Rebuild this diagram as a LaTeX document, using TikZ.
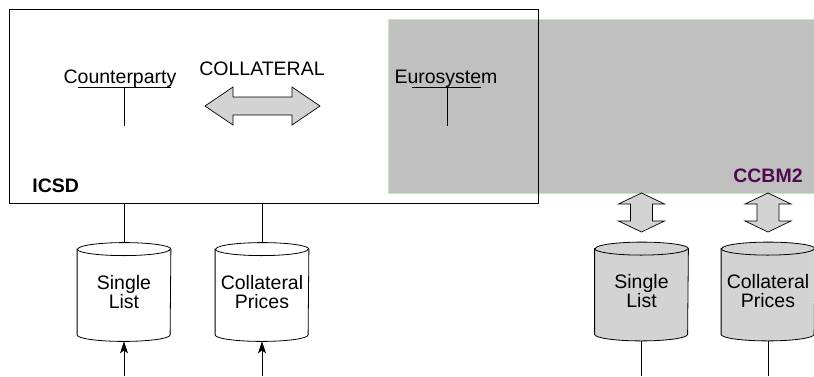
\documentclass[tikz,border=0pt]{standalone}
\usepackage{fontspec}
\setmainfont{Liberation Sans}
\usetikzlibrary{arrows.meta,calc}
\definecolor{boxgray}{HTML}{C0C0C0}
\definecolor{lightfill}{HTML}{D3D3D3}
\definecolor{edgegreen}{HTML}{C6E8BE}
\definecolor{ccbmcol}{HTML}{4E0B4E}
\newcommand\dbcyl[2]{%
  \draw[fill=#2] ($(#1.north west)+(0,6.5)$) -- ($(#1.south west)+(0,-6.5)$)
    arc[start angle=180, end angle=360, x radius=46.5pt, y radius=6.5pt]
    -- ($(#1.north east)+(0,6.5)$)
    arc[start angle=0, end angle=180, x radius=46.5pt, y radius=6.5pt] -- cycle;
  \draw ($(#1.north west)+(0,6.5)$)
    arc[start angle=180, end angle=360, x radius=46.5pt, y radius=6.5pt];
}
\newcommand\vfat[1]{%
  \draw[fatarrow] (#1,193) -- (#1+23,204) -- (#1+11,204) -- (#1+11,221) -- (#1+23,221)
    -- (#1,232) -- (#1-23,221) -- (#1-11,221) -- (#1-11,204) -- (#1-23,204) -- cycle;
}
\begin{document}
\begin{tikzpicture}[x=1pt,y=-1pt, line width=0.8pt,
  lbl/.style={font=\fontsize{19.5}{19}\selectfont, inner sep=0},
  boldlbl/.style={font=\fontsize{19.5}{19}\selectfont\bfseries, inner sep=0},
  dbbox/.style={minimum width=93pt, minimum height=98pt, inner sep=0, align=center, font=\fontsize{19.5}{19}\selectfont},
  fatarrow/.style={draw=black, fill=lightfill, line width=0.7pt, line join=miter},
  tip/.style={-{Stealth[length=12pt,width=8pt,inset=3pt]}},
]
\useasboundingbox (0,0) rectangle (814,376);
% CCBM2 grey area
\node[draw=edgegreen, fill=boxgray, line width=1pt, minimum width=430pt, minimum height=174pt,
  inner sep=0, anchor=north west] (ccbm) at (388,19) {};
% ICSD frame
\node[draw, minimum width=529pt, minimum height=194pt, inner sep=0, anchor=north west] (icsd) at (9,9) {};
% labels
\node[lbl, anchor=base] (cp) at (120,83) {Counterparty};
\node[lbl, anchor=base] (es) at (446,83) {Eurosystem};
\node[lbl, anchor=base] (coll) at (262,75) {COLLATERAL};
\node[boldlbl, anchor=base west] (icsdl) at (32,192) {ICSD};
\node[boldlbl, anchor=base east, text=ccbmcol] (ccbml) at (803,182) {CCBM2};
% T marks
\coordinate (cpL) at (78,87); \coordinate (cpR) at (171,87);
\coordinate (cpT) at (124,87); \coordinate (cpB) at (124,126);
\draw (cpL) -- (cpR); \draw (cpT) -- (cpB);
\coordinate (esL) at (412,87); \coordinate (esR) at (481,87);
\coordinate (esT) at (447,87); \coordinate (esB) at (447,126);
\draw (esL) -- (esR); \draw (esT) -- (esB);
% horizontal fat double arrow
\draw[fatarrow] (205,106) -- (233,87) -- (233,97) -- (292,97) -- (292,87) -- (320,106)
  -- (292,125) -- (292,115) -- (233,115) -- (233,125) -- cycle;
% cylinders
\node[dbbox] (sl) at (124,292) {};
\node[dbbox] (cpr) at (262,292) {};
\node[dbbox] (sl2) at (641.5,291.5) {};
\node[dbbox] (cpr2) at (768,291.5) {};
\dbcyl{sl}{white}
\dbcyl{cpr}{white}
\dbcyl{sl2}{lightfill}
\dbcyl{cpr2}{lightfill}
\node[dbbox] at (sl) {Single\\List};
\node[dbbox] at (cpr) {Collateral\\Prices};
\node[dbbox] at (sl2) {Single\\List};
\node[dbbox] at (cpr2) {Collateral\\Prices};
% connectors
\draw (icsd.south -| sl.north) -- (sl.north);
\draw (icsd.south -| cpr.north) -- (cpr.north);
\coordinate (slin) at (124,376); \coordinate (cprin) at (262,376);
\draw[tip] (slin) -- (sl.south);
\draw[tip] (cprin) -- (cpr.south);
\coordinate (sl2out) at (641.5,376); \coordinate (cpr2out) at (768,376);
\draw (sl2.south) -- (sl2out);
\draw (cpr2.south) -- (cpr2out);
% vertical fat double arrows
\vfat{641.5}
\vfat{768}
\end{tikzpicture}
\end{document}
